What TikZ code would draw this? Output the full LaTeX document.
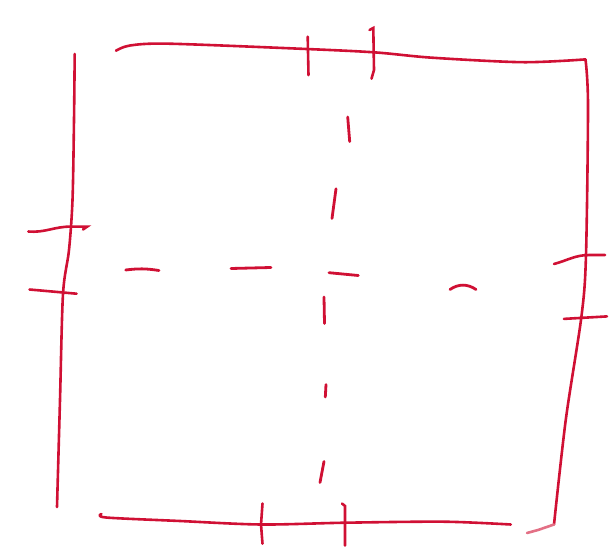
\documentclass[tikz,border=0pt]{standalone}
\definecolor{sketchred}{RGB}{208,16,52}
\begin{document}
\begin{tikzpicture}[x=1pt, y=-1pt,
    wall/.style={draw=sketchred, line width=2.6pt, line cap=round, line join=round},
    tick/.style={draw=sketchred, line width=2.6pt, line cap=round},
    axis/.style={draw=sketchred, line width=2.8pt, line cap=round}
]
\useasboundingbox (0,0) rectangle (616,548);
% walls
\draw[wall] plot[smooth] coordinates {(74.7,54) (74,120) (72.5,200) (69,250) (63,294) (60,400) (57,507)};
\draw[wall] plot[smooth] coordinates {(116,50.7) (130,45.5) (169,43.7) (306.5,49) (375,52.4) (432,57.7) (522.6,62.2) (585.5,59.4)};
\draw[wall] plot[smooth] coordinates {(585.5,59.4) (588,105) (586,255) (581.5,316) (565.8,419.6) (554,524.5)};
\draw[wall, draw=sketchred!60] (554,524.5) -- (538,530) -- (527,533);
\draw[wall] plot[smooth] coordinates {(101.4,514) (106,517.5) (180,521) (261,524.5) (345.8,522.7) (444,521.7) (510.8,524.5)};
% openings
\draw[tick] (28.3,231.5) to[out=-5,in=180] (70.7,226.6) -- (87.2,226.6) -- (83,229.5);
\draw[tick] (29.5,289.5) -- (76.6,293.7);
\draw[tick] (307.7,36.7) -- (308.5,75.2);
\draw[tick] (369.5,30) -- (373.3,28) -- (374,70) -- (371.5,78.7);
\draw[tick] (554,264) to[out=15,in=180] (589.4,255) -- (605,255);
\draw[tick] (563.9,318.9) -- (607,316.4);
\draw[tick] (262.5,503.5) -- (261,524.5) -- (262.5,543.7);
\draw[tick] (342,503.5) -- (345,506) -- (345,545.5);
% dashed centre lines
\draw[axis] (125.7,270) to[bend left=8] (159,270.5);
\draw[axis] (231,268.5) -- (271,267.5);
\draw[axis] (329,272.7) -- (358.3,275.5);
\draw[axis] (450,289.5) to[bend left=35] (476,289.5);
\draw[axis] (347.7,117) -- (349.7,141.6);
\draw[axis] (336,188.8) -- (332,218.5);
\draw[axis] (324,297) -- (324.5,323.4);
\draw[axis] (326,384.6) -- (325.3,397);
\draw[axis] (324,461.5) -- (320,482.5);
\end{tikzpicture}
\end{document}
